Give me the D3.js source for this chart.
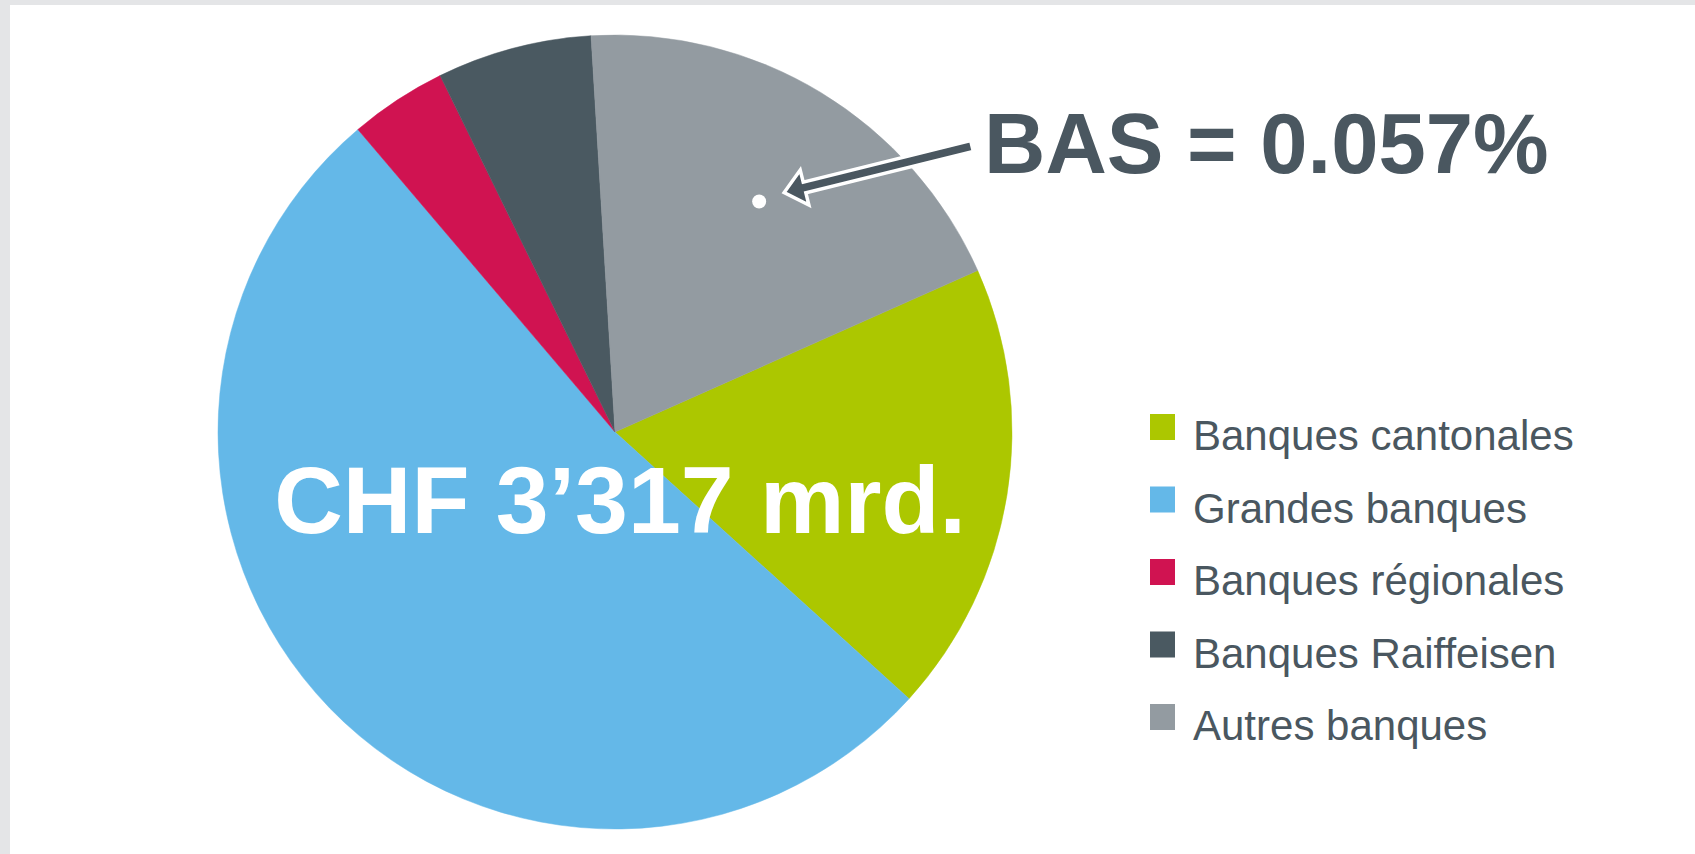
<!DOCTYPE html>
<html>
<head>
<meta charset="utf-8">
<script src="https://cdn.jsdelivr.net/npm/d3@7"></script>
<style>
  html, body { margin: 0; padding: 0; background: #e4e5e7; }
  svg { display: block; }
  text { font-family: "Liberation Sans", Arial, sans-serif; }
</style>
</head>
<body>
<script>
// Data (CHF mrd.)
const categories = ['Banques cantonales', 'Grandes banques', 'Banques régionales', 'Banques Raiffeisen', 'Autres banques'];
const values = [610, 1727, 131, 209, 640];
const colors = ['#acc700', '#64b8e8', '#d01351', '#4a5961', '#939ba1'];
const annotation = 'BAS = 0.057%';

const width = 1695, height = 854;
const cx = 615, cy = 432, radius = 397;
const textColor = '#4a5760';

const svg = d3.select('body').append('svg')
  .attr('width', width)
  .attr('height', height);

// white panel on grey frame
svg.append('rect')
  .attr('x', 10).attr('y', 5)
  .attr('width', width - 10).attr('height', height - 5)
  .attr('fill', '#fff');

const data = categories.map((c, i) => ({ name: c, value: values[i], color: colors[i] }));

const start = 66 * Math.PI / 180;
const pie = d3.pie()
  .value(d => d.value)
  .sort(null)
  .startAngle(start)
  .endAngle(start + 2 * Math.PI);

const arc = d3.arc().innerRadius(0).outerRadius(radius);
const arcs = pie(data);

const g = svg.append('g').attr('transform', `translate(${cx},${cy})`);

g.selectAll('path')
  .data(arcs)
  .enter()
  .append('path')
  .attr('d', arc)
  .attr('fill', d => d.data.color)
  .attr('stroke', d => d.data.color)
  .attr('stroke-width', 0.5);

// total in the middle
const fmt = d3.formatLocale({ decimal: '.', thousands: '’', grouping: [3], currency: ['', ''] }).format(',d');
g.append('text')
  .attr('x', 5)
  .attr('y', 101)
  .attr('text-anchor', 'middle')
  .attr('fill', '#fff')
  .attr('font-weight', 'bold')
  .attr('font-size', 95)
  .text(`CHF ${fmt(d3.sum(values))} mrd.`);

// annotation dot inside "Autres banques"
const autres = arcs[4];
const dotArc = d3.arc().innerRadius(radius * 0.685).outerRadius(radius * 0.685);
const [dx, dy] = dotArc.centroid(autres);
g.append('circle')
  .attr('cx', dx + 3).attr('cy', dy + 2)
  .attr('r', 7)
  .attr('fill', '#fff');

// block arrow from label to dot
const tail = [972 - cx, 146 - cy];
const tip = [dx + 28, dy - 7];
const ang = Math.atan2(tip[1] - tail[1], tip[0] - tail[0]) * 180 / Math.PI;
const len = Math.hypot(tip[0] - tail[0], tip[1] - tail[1]);
const hl = 21, hw = 18, sw = 5.5;
const arrowPts = [
  [0, -sw], [len - hl, -sw], [len - hl, -hw], [len, 0],
  [len - hl, hw], [len - hl, sw], [0, sw]
];
g.append('path')
  .attr('transform', `translate(${tail[0]},${tail[1]}) rotate(${ang})`)
  .attr('d', d3.line()(arrowPts) + 'Z')
  .attr('fill', textColor)
  .attr('stroke', '#fff')
  .attr('stroke-width', 3.5)
  .attr('stroke-linejoin', 'miter');

svg.append('text')
  .attr('x', 984)
  .attr('y', 173)
  .attr('fill', textColor)
  .attr('font-weight', 'bold')
  .attr('font-size', 85)
  .text(annotation);

// legend
const legend = svg.append('g').attr('transform', 'translate(1150,450)');
const rows = legend.selectAll('g')
  .data(data)
  .enter()
  .append('g')
  .attr('transform', (d, i) => `translate(0,${i * 72.5})`);

rows.append('rect')
  .attr('x', 0).attr('y', -36)
  .attr('width', 25).attr('height', 26)
  .attr('fill', d => d.color);

rows.append('text')
  .attr('x', 43).attr('y', 0)
  .attr('fill', textColor)
  .attr('font-size', 42)
  .text(d => d.name);
</script>
</body>
</html>
